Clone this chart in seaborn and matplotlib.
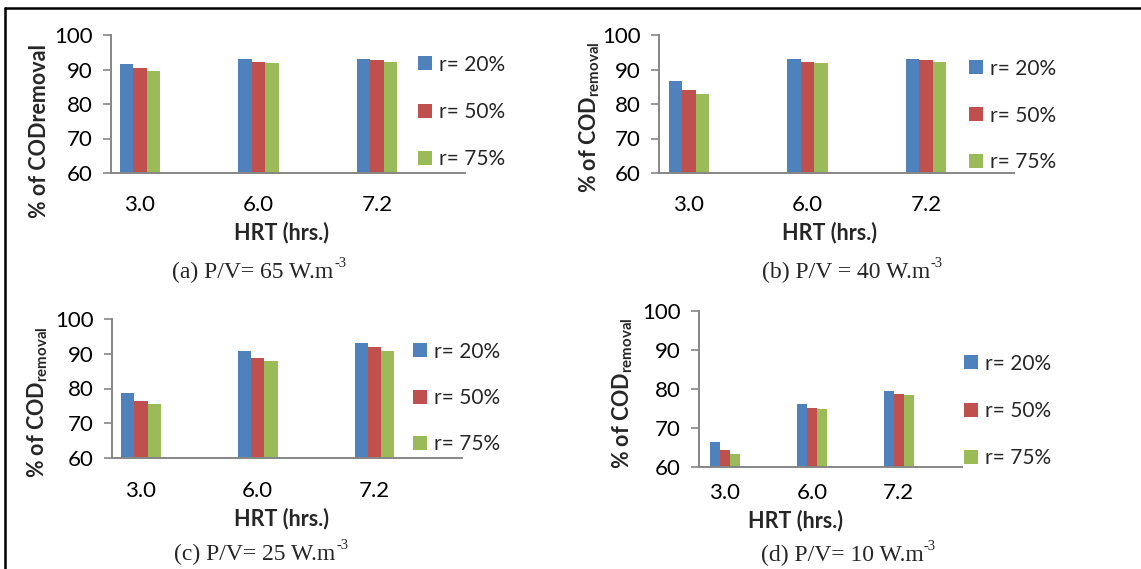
import matplotlib
matplotlib.use("Agg")
import matplotlib.pyplot as plt
from matplotlib.lines import Line2D
from matplotlib.patches import Patch
import seaborn as sns
import pandas as pd

# ---------------- data ----------------
hrt_labels = ["3.0", "6.0", "7.2"]
ratios = ["r= 20%", "r= 50%", "r= 75%"]

cod_a_r20 = [91.7, 92.9, 93.1]
cod_a_r50 = [90.3, 92.3, 92.7]
cod_a_r75 = [89.6, 92.0, 92.3]

cod_b_r20 = [86.6, 92.9, 93.1]
cod_b_r50 = [84.0, 92.3, 92.7]
cod_b_r75 = [83.0, 92.0, 92.3]

cod_c_r20 = [78.8, 90.9, 93.0]
cod_c_r50 = [76.5, 88.7, 91.9]
cod_c_r75 = [75.4, 88.0, 90.8]

cod_d_r20 = [66.3, 76.2, 79.5]
cod_d_r50 = [64.4, 75.2, 78.6]
cod_d_r75 = [63.4, 74.8, 78.4]

captions = ["(a) P/V= 65 W.m", "(b) P/V = 40 W.m", "(c) P/V= 25 W.m", "(d) P/V= 10 W.m"]
caption_sup = "-3"
ylabels = ["% of CODremoval",
           r"% of COD$_{\mathbf{removal}}$",
           r"% of COD$_{\mathbf{removal}}$",
           r"% of COD$_{\mathbf{removal}}$"]
xlabel = "HRT (hrs.)"
yticks = [60, 70, 80, 90, 100]
colors = ["#4F81BD", "#C0504D", "#9BBB59"]

panels = [(cod_a_r20, cod_a_r50, cod_a_r75),
          (cod_b_r20, cod_b_r50, cod_b_r75),
          (cod_c_r20, cod_c_r50, cod_c_r75),
          (cod_d_r20, cod_d_r50, cod_d_r75)]

# ---------------- style ----------------
sns.set_theme(style="white")
plt.rcParams["font.family"] = ["Lato", "DejaVu Sans"]
plt.rcParams["mathtext.fontset"] = "custom"
plt.rcParams["mathtext.rm"] = "Lato"
plt.rcParams["mathtext.bf"] = "Lato:bold"

W, H = 1141, 569
fig = plt.figure(figsize=(W / 100, H / 100), dpi=100)

def fx(px):
    return px / W

def fy(py):
    return 1 - py / H

layout = [
    dict(l=111, r=465, t=35, b=173, c0=140, sp=118.5,
         leg=(421, 67, 45), tick_y=206, xl=(282, 233), cap=(253, 272), yl=(40, 131)),
    dict(l=659, r=1014, t=35, b=173, c0=689, sp=118.6,
         leg=(972, 71, 44.5), tick_y=206, xl=(830, 233), cap=(846, 272), yl=(590, 117)),
    dict(l=112, r=462, t=319, b=458, c0=141, sp=116.8,
         leg=(416, 354, 44), tick_y=492, xl=(282, 519), cap=(255, 554), yl=(38, 402)),
    dict(l=699, r=962, t=311, b=467, c0=725, sp=86.9,
         leg=(967, 366, 45), tick_y=494, xl=(796, 521), cap=(842, 555), yl=(623, 393)),
]

FS_TICK = 16
FS_LEG = 15
FS_LAB = 15.5
FS_CAP = 17
axis_col = "#868686"

for i, (vals, L) in enumerate(zip(panels, layout)):
    rows = []
    for r_name, series in zip(ratios, vals):
        for h, v in zip(hrt_labels, series):
            rows.append({"HRT": h, "r": r_name, "value": v})
    df = pd.DataFrame(rows)

    ax = fig.add_axes([fx(L["l"]), fy(L["b"]), fx(L["r"] - L["l"]), (L["b"] - L["t"]) / H])
    sns.barplot(data=df, x="HRT", y="value", hue="r", order=hrt_labels,
                hue_order=ratios, palette=colors, width=0.34, gap=0,
                saturation=1, edgecolor="none", legend=False, ax=ax, errorbar=None)
    ax.set_xlim((L["l"] - L["c0"]) / L["sp"], (L["r"] - L["c0"]) / L["sp"])
    ax.set_ylim(60, 100)
    ax.set_yticks(yticks)
    ax.set_yticklabels([str(t) for t in yticks], fontsize=FS_TICK)
    ax.set_xticks(range(len(hrt_labels)))
    ax.set_xticklabels(hrt_labels, fontsize=FS_TICK)
    ax.set_xlabel("")
    ax.set_ylabel("")
    for s in ["top", "right"]:
        ax.spines[s].set_visible(False)
    for s in ["left", "bottom"]:
        ax.spines[s].set_color(axis_col)
        ax.spines[s].set_linewidth(1.4)
    ax.tick_params(axis="y", direction="out", length=6, width=1.2, color=axis_col,
                   pad=7, left=True, labelcolor="black")
    pad_x = (L["tick_y"] - L["b"]) * 0.72 - FS_TICK * 0.5
    ax.tick_params(axis="x", length=0, pad=pad_x, labelcolor="black")
    ax.grid(False)

    # legend
    lx, ly, dy = L["leg"]
    handles = [Patch(facecolor=c, edgecolor="none") for c in colors]
    fig.legend(handles, ratios, loc="center left",
               bbox_to_anchor=(fx(lx - 3), fy(ly + dy)), frameon=False,
               fontsize=FS_LEG, handlelength=0.68, handleheight=0.68,
               handletextpad=0.35, labelspacing=dy / 20.8 - 0.85,
               borderpad=0, borderaxespad=0)

    # axis labels
    fig.text(fx(L["xl"][0]), fy(L["xl"][1]), xlabel, ha="center", va="center",
             fontsize=FS_LAB, fontweight="bold")
    fig.text(fx(L["yl"][0]), fy(L["yl"][1]), ylabels[i], ha="center", va="center",
             rotation=90, fontsize=FS_LAB, fontweight="bold")
    cap = fig.text(fx(L["cap"][0]), fy(L["cap"][1]), captions[i], ha="center",
                   va="center", fontsize=FS_CAP, family=["Liberation Serif", "DejaVu Serif"])
    fig.canvas.draw()
    bb = cap.get_window_extent()
    fig.text(bb.x1 / W + 0.0005, (bb.y1 - 9) / H, caption_sup,
             ha="left", va="bottom", fontsize=FS_CAP * 0.62,
             family=["Liberation Serif", "DejaVu Serif"])

# border (top and left)
fig.add_artist(Line2D([fx(5), 1.0], [fy(8), fy(8)], color="black", lw=1.8,
                      transform=fig.transFigure))
fig.add_artist(Line2D([fx(5), fx(5)], [fy(8), 0.0], color="black", lw=1.8,
                      transform=fig.transFigure))

fig.savefig("out.png", dpi=100)
